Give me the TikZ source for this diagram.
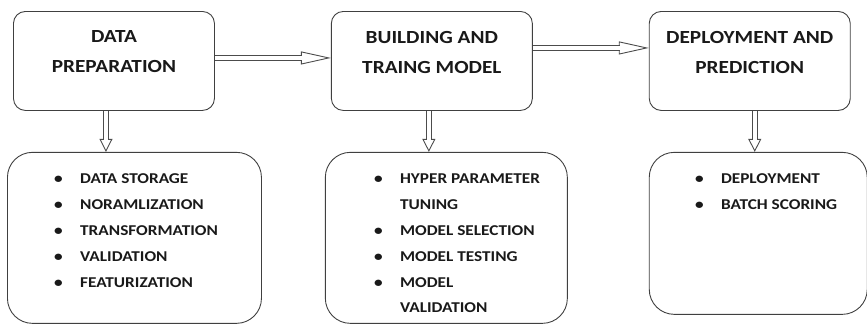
\documentclass[tikz,border=0pt]{standalone}
\usepackage{fontspec}
\setmainfont{Carlito}[FakeStretch=1.15]
\usetikzlibrary{arrows.meta, positioning}

\newcommand{\itm}[1]{\makebox[26pt][l]{\textbullet}#1}
\newcommand{\cnt}[1]{\hspace*{26pt}#1}

\begin{document}
\begin{tikzpicture}[
    x=1pt, y=1pt,
    stage/.style={rectangle, draw=black!75, line width=0.9pt, rounded corners=12pt, minimum width=201pt, minimum height=99pt, align=center, text depth=18pt, font=\fontsize{18.5}{30}\selectfont\bfseries, text=black!90},
    tasks/.style={rectangle, draw=black!75, line width=0.9pt, rounded corners=25pt, anchor=north west},
    items/.style={align=left, inner sep=0pt, anchor=north west, font=\fontsize{15}{25.8}\selectfont\bfseries, text=black!90},
    hollow/.style={draw=black!70, line width=0.9pt, -{Triangle[open, length=#1, width=13pt]},
        postaction={draw=black!70, line width=0.9pt, arrows=-, double=white, double distance=4.5pt, shorten >=#1-1.5pt}}
]
\useasboundingbox (0,0) rectangle (867,-324);

% Stages
\node[stage, anchor=north west] (prep) at (13,-11) {DATA\\PREPARATION};
\node[stage, right=116pt of prep] (build) {BUILDING AND\\TRAING MODEL};
\node[stage, right=116pt of build] (deploy) {DEPLOYMENT AND\\PREDICTION};

% Task boxes
\node[tasks, minimum width=254pt, minimum height=171pt, below right=41pt and -6pt of prep.south west] (prepbox) {};
\node[tasks, minimum width=242pt, minimum height=171pt, below right=41pt and -6pt of build.south west] (buildbox) {};
\node[tasks, minimum width=218pt, minimum height=162pt, below right=41pt and 0pt of deploy.south west] (deploybox) {};

% Task lists
\node[items, below right=22pt and 47pt of prepbox.north west] (preplist) {\itm{DATA STORAGE}\\\itm{NORAMLIZATION}\\\itm{TRANSFORMATION}\\\itm{VALIDATION}\\\itm{FEATURIZATION}};
\node[items, below right=22pt and 49pt of buildbox.north west] (buildlist) {\itm{HYPER PARAMETER}\\\cnt{TUNING}\\\itm{MODEL SELECTION}\\\itm{MODEL TESTING}\\\itm{MODEL}\\\cnt{VALIDATION}};
\node[items, below right=22pt and 46pt of deploybox.north west] (deploylist) {\itm{DEPLOYMENT}\\\itm{BATCH SCORING}};

% Arrows
\draw[hollow=30pt] ([yshift=3pt]prep.east) -- ([yshift=3pt]prep.east -| build.west);
\draw[hollow=30pt] ([yshift=13pt]build.east) -- ([yshift=13pt]build.east -| deploy.west);
\draw[hollow=13pt] ([xshift=-8pt]prep.south) -- ([xshift=-8pt]prep.south |- prepbox.north);
\draw[hollow=13pt] ([xshift=-3pt]build.south) -- ([xshift=-3pt]build.south |- buildbox.north);
\draw[hollow=13pt] ([xshift=5pt]deploy.south) -- ([xshift=5pt]deploy.south |- deploybox.north);

\end{tikzpicture}
\end{document}
